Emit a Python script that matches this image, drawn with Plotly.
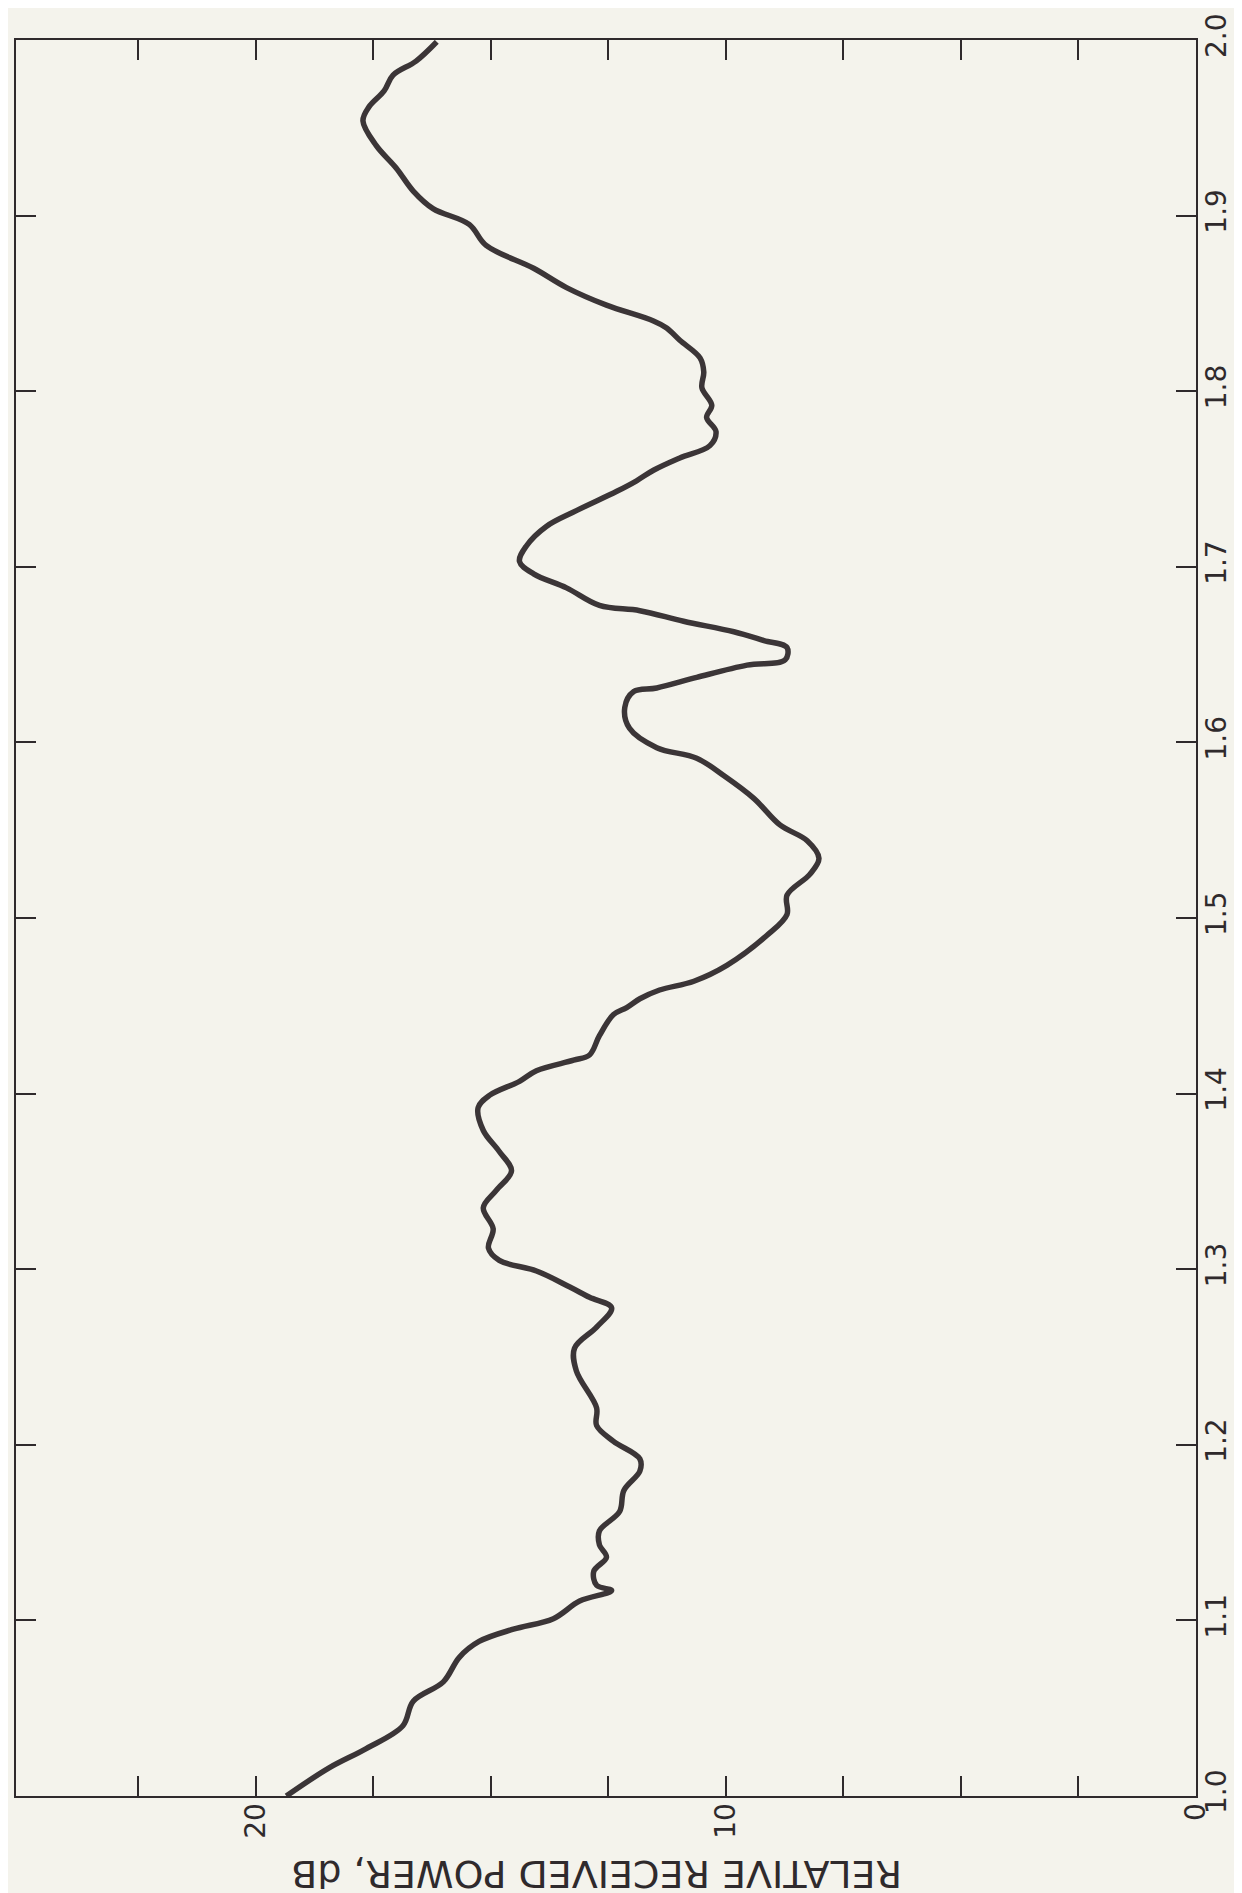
import plotly.graph_objects as go

# Distance (vertical axis, reads 1.0 .. 2.0) and relative received power (dB, horizontal axis)
distance = [1.000, 1.016, 1.027, 1.040, 1.054, 1.065, 1.079, 1.088, 1.095, 1.101,
            1.111, 1.117, 1.120, 1.128, 1.136, 1.143, 1.151, 1.162, 1.174, 1.185,
            1.192, 1.202, 1.211, 1.221, 1.242, 1.255, 1.267, 1.278, 1.284, 1.290,
            1.299, 1.305, 1.312, 1.323, 1.335, 1.345, 1.356, 1.367, 1.379, 1.392,
            1.399, 1.407, 1.413, 1.419, 1.422, 1.433, 1.445, 1.449, 1.454, 1.459,
            1.464, 1.473, 1.490, 1.502, 1.513, 1.525, 1.534, 1.544, 1.553, 1.568,
            1.581, 1.591, 1.597, 1.608, 1.620, 1.629, 1.631, 1.637, 1.644, 1.647,
            1.654, 1.658, 1.663, 1.669, 1.675, 1.678, 1.688, 1.696, 1.703, 1.712,
            1.723, 1.732, 1.743, 1.749, 1.755, 1.762, 1.769, 1.777, 1.785, 1.792,
            1.802, 1.811, 1.819, 1.829, 1.836, 1.840, 1.849, 1.859, 1.870, 1.883,
            1.895, 1.904, 1.914, 1.927, 1.940, 1.954, 1.962, 1.971, 1.980, 1.988,
            1.999]
power_db = [19.35, 18.44, 17.65, 16.87, 16.65, 16.01, 15.67, 15.25, 14.52, 13.67,
            13.11, 12.43, 12.75, 12.81, 12.54, 12.69, 12.69, 12.26, 12.17, 11.83,
            11.83, 12.39, 12.75, 12.75, 13.18, 13.22, 12.75, 12.43, 12.90, 13.33,
            14.03, 14.82, 15.05, 14.95, 15.16, 14.88, 14.56, 14.82, 15.16, 15.27,
            15.03, 14.39, 14.03, 13.24, 12.90, 12.69, 12.39, 12.11, 11.83, 11.41,
            10.68, 9.98, 9.13, 8.70, 8.70, 8.21, 8.02, 8.27, 8.85, 9.40,
            10.04, 10.62, 11.47, 12.05, 12.15, 11.96, 11.47, 10.62, 9.55, 8.74,
            8.70, 9.19, 9.83, 10.90, 11.83, 12.69, 13.39, 14.09, 14.39, 14.24,
            13.82, 13.18, 12.32, 11.90, 11.54, 10.98, 10.34, 10.21, 10.41, 10.30,
            10.51, 10.47, 10.55, 10.98, 11.26, 11.54, 12.54, 13.39, 14.09, 15.10,
            15.46, 16.23, 16.65, 17.01, 17.44, 17.72, 17.59, 17.27, 17.08, 16.59,
            16.15]

db_tick_vals = [0, 2.5, 5, 7.5, 10, 12.5, 15, 17.5, 20, 22.5]
db_tick_text = ["0", "", "", "", "10", "", "", "", "20", ""]
dist_tick_vals = [1.0, 1.1, 1.2, 1.3, 1.4, 1.5, 1.6, 1.7, 1.8, 1.9, 2.0]
dist_tick_text = ["1.0", "1.1", "1.2", "1.3", "1.4", "1.5", "1.6", "1.7", "1.8", "1.9", "2.0"]
axis_title = "RELATIVE RECEIVED POWER, dB"

ink = "#2f2a2c"
bg = "#f4f3ec"
font_family = "DejaVu Sans, Liberation Sans, sans-serif"

fig = go.Figure()
fig.add_trace(go.Scatter(
    x=power_db, y=distance, mode="lines",
    line=dict(color="#3b3537", width=5.5, shape="spline", smoothing=1.0),
    hoverinfo="skip", showlegend=False,
))

fig.update_layout(
    width=1242, height=1893,
    margin=dict(l=8, r=54, t=32, b=105),
    paper_bgcolor=bg, plot_bgcolor=bg,
    font=dict(family=font_family, color=ink, size=28),
    xaxis=dict(
        range=[25.1, 0], showgrid=False, zeroline=False, automargin=False,
        showline=True, linecolor=ink, linewidth=2, mirror="ticks",
        ticks="inside", ticklen=20, tickwidth=2, tickcolor=ink,
        tickmode="array", tickvals=db_tick_vals, ticktext=db_tick_text,
        tickangle=-90, ticklabelstandoff=-6,
        tickfont=dict(size=28, family=font_family, color=ink),
    ),
    yaxis=dict(
        range=[1.0, 2.0], side="right", showgrid=False, zeroline=False, automargin=False,
        showline=True, linecolor=ink, linewidth=2, mirror="ticks",
        ticks="inside", ticklen=20, tickwidth=2, tickcolor=ink,
        tickmode="array", tickvals=dist_tick_vals, ticktext=dist_tick_text,
        tickangle=-90, ticklabelstandoff=-6,
        tickfont=dict(size=28, family=font_family, color=ink),
    ),
    annotations=[dict(
        text=axis_title, xref="paper", yref="paper",
        x=0.4915, y=-0.044, xanchor="center", yanchor="middle",
        textangle=180, showarrow=False,
        font=dict(size=38, family=font_family, color=ink),
    )],
)

fig.write_html("out.html")
